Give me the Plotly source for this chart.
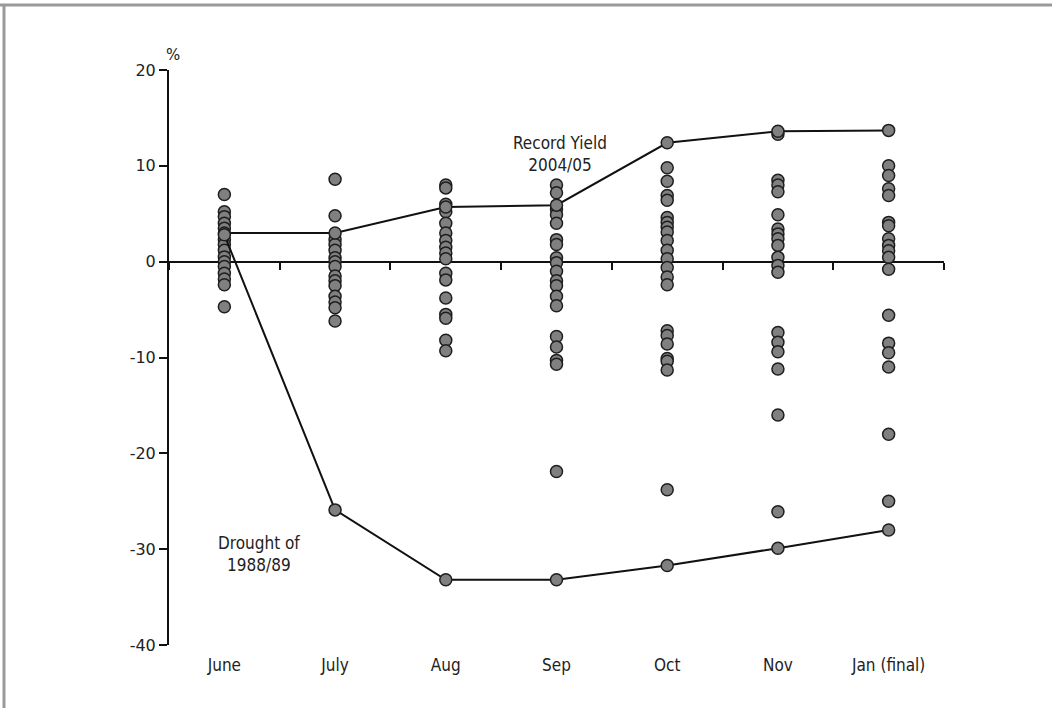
import plotly.graph_objects as go

months = ["June", "July", "Aug", "Sep", "Oct", "Nov", "Jan (final)"]

# forecast revisions (%) for all years, per month
june = [7.0, 5.2, 4.7, 4.0, 3.5, 2.3, 1.8, 1.2, 0.5, 0.0, -0.5, -1.2, -1.8, -2.4, -4.7]
july = [8.6, 4.8, 2.3, 1.8, 1.2, 0.4, 0.0, -0.5, -1.5, -2.0, -2.5, -3.6, -4.2, -4.8, -6.2]
aug = [8.0, 7.7, 6.0, 5.2, 4.0, 3.0, 2.2, 1.5, 0.9, 0.3, -1.2, -1.9, -3.8, -5.5, -5.9, -8.2, -9.3]
sep = [8.0, 7.2, 5.5, 4.9, 4.0, 2.3, 1.8, 0.4, -0.1, -1.0, -2.0, -2.5, -3.6, -4.6,
       -7.8, -8.9, -10.3, -10.7, -21.9]
octo = [9.8, 8.4, 6.9, 6.4, 4.6, 4.1, 3.6, 3.1, 2.2, 1.2, 0.3, -0.6, -1.6, -2.4,
        -7.2, -7.7, -8.6, -10.1, -10.4, -11.3, -23.8]
nov = [13.3, 8.5, 8.0, 7.3, 4.9, 3.4, 2.9, 2.4, 1.7, 0.45, -0.4, -1.1,
       -7.4, -8.4, -9.4, -11.2, -16.0, -26.1]
jan = [10.0, 9.0, 7.6, 6.9, 4.1, 3.75, 2.4, 1.7, 1.15, 0.45, -0.8,
       -5.6, -8.5, -9.5, -11.0, -18.0, -25.0]

record_yield = [3.0, 3.0, 5.7, 5.9, 12.4, 13.6, 13.7]
drought = [2.8, -25.9, -33.2, -33.2, -31.7, -29.9, -28.0]

y_ticks = [20, 10, 0, -10, -20, -30, -40]

cols = [june, july, aug, sep, octo, nov, jan]
cloud_x, cloud_y = [], []
for m, vals in zip(months, cols):
    cloud_x += [m] * len(vals)
    cloud_y += vals

marker = dict(size=12, color="#808080", line=dict(color="#1e1e1e", width=1.5))
line_style = dict(color="#111111", width=2)

fig = go.Figure()
fig.add_trace(go.Scatter(x=cloud_x, y=cloud_y, mode="markers", marker=marker,
                         xaxis="x", yaxis="y", hoverinfo="skip"))
fig.add_trace(go.Scatter(x=months, y=record_yield, mode="lines+markers",
                         line=line_style, marker=marker, xaxis="x", yaxis="y"))
fig.add_trace(go.Scatter(x=months, y=drought, mode="lines+markers",
                         line=line_style, marker=marker, xaxis="x", yaxis="y"))
# carrier for the bottom category labels
fig.add_trace(go.Scatter(x=months, y=[None] * len(months), mode="markers",
                         xaxis="x2", yaxis="y", hoverinfo="skip"))

L, T, W, H = 169, 70, 775, 575
FIGW, FIGH = 1052, 708

def px(x):
    return (x - L) / W

def py(y):
    return (T + H - y) / H

tick_font = dict(family="DejaVu Sans, Verdana, sans-serif", size=16, color="#222222")
label_font = dict(family="Liberation Sans Narrow, DejaVu Sans Condensed, Arial Narrow, sans-serif",
                  size=17, color="#222222")

fig.update_layout(
    width=FIGW, height=FIGH,
    margin=dict(l=L, r=FIGW - L - W, t=T, b=FIGH - T - H),
    paper_bgcolor="white", plot_bgcolor="white",
    showlegend=False,
    xaxis=dict(
        type="category", categoryorder="array", categoryarray=months,
        range=[-0.5, 6.5], anchor="free", position=40 / 60,
        showline=True, linecolor="#111111", linewidth=2,
        ticks="outside", tickson="boundaries", ticklen=7, tickwidth=2, tickcolor="#111111",
        showticklabels=False, showgrid=False, zeroline=False, layer="below traces",
    ),
    xaxis2=dict(
        type="category", categoryorder="array", categoryarray=months,
        range=[-0.5, 6.5], overlaying="x", anchor="y", side="bottom",
        showline=False, ticks="", showgrid=False, zeroline=False,
        tickfont=label_font, ticklabelstandoff=8,
    ),
    yaxis=dict(
        range=[-40, 20], tickvals=y_ticks, ticktext=[str(v) for v in y_ticks],
        showline=True, linecolor="#111111", linewidth=2,
        ticks="outside", ticklen=8, tickwidth=2, tickcolor="#111111",
        showgrid=False, zeroline=False, tickfont=tick_font,
    ),
    annotations=[
        dict(text="%", xref="paper", yref="paper", x=px(164), y=py(44),
             showarrow=False, font=dict(family="DejaVu Sans, sans-serif", size=15, color="#222222")),
        dict(text="Record Yield<br>2004/05", xref="x", yref="y", x=3.03, y=11.2,
             showarrow=False, font=label_font, align="center"),
        dict(text="Drought of<br>1988/89", xref="x", yref="y", x=0.31, y=-30.5,
             showarrow=False, font=label_font, align="center"),
    ],
    shapes=[
        dict(type="line", xref="paper", yref="paper", x0=px(0), x1=px(FIGW + 5),
             y0=py(5), y1=py(5), line=dict(color="#9a9a9a", width=3)),
        dict(type="line", xref="paper", yref="paper", x0=px(4), x1=px(4),
             y0=py(5), y1=py(FIGH + 5), line=dict(color="#9a9a9a", width=3)),
    ],
)

fig.write_html("out.html", config={"displayModeBar": False},
               post_script="document.body.style.margin='0px';")
